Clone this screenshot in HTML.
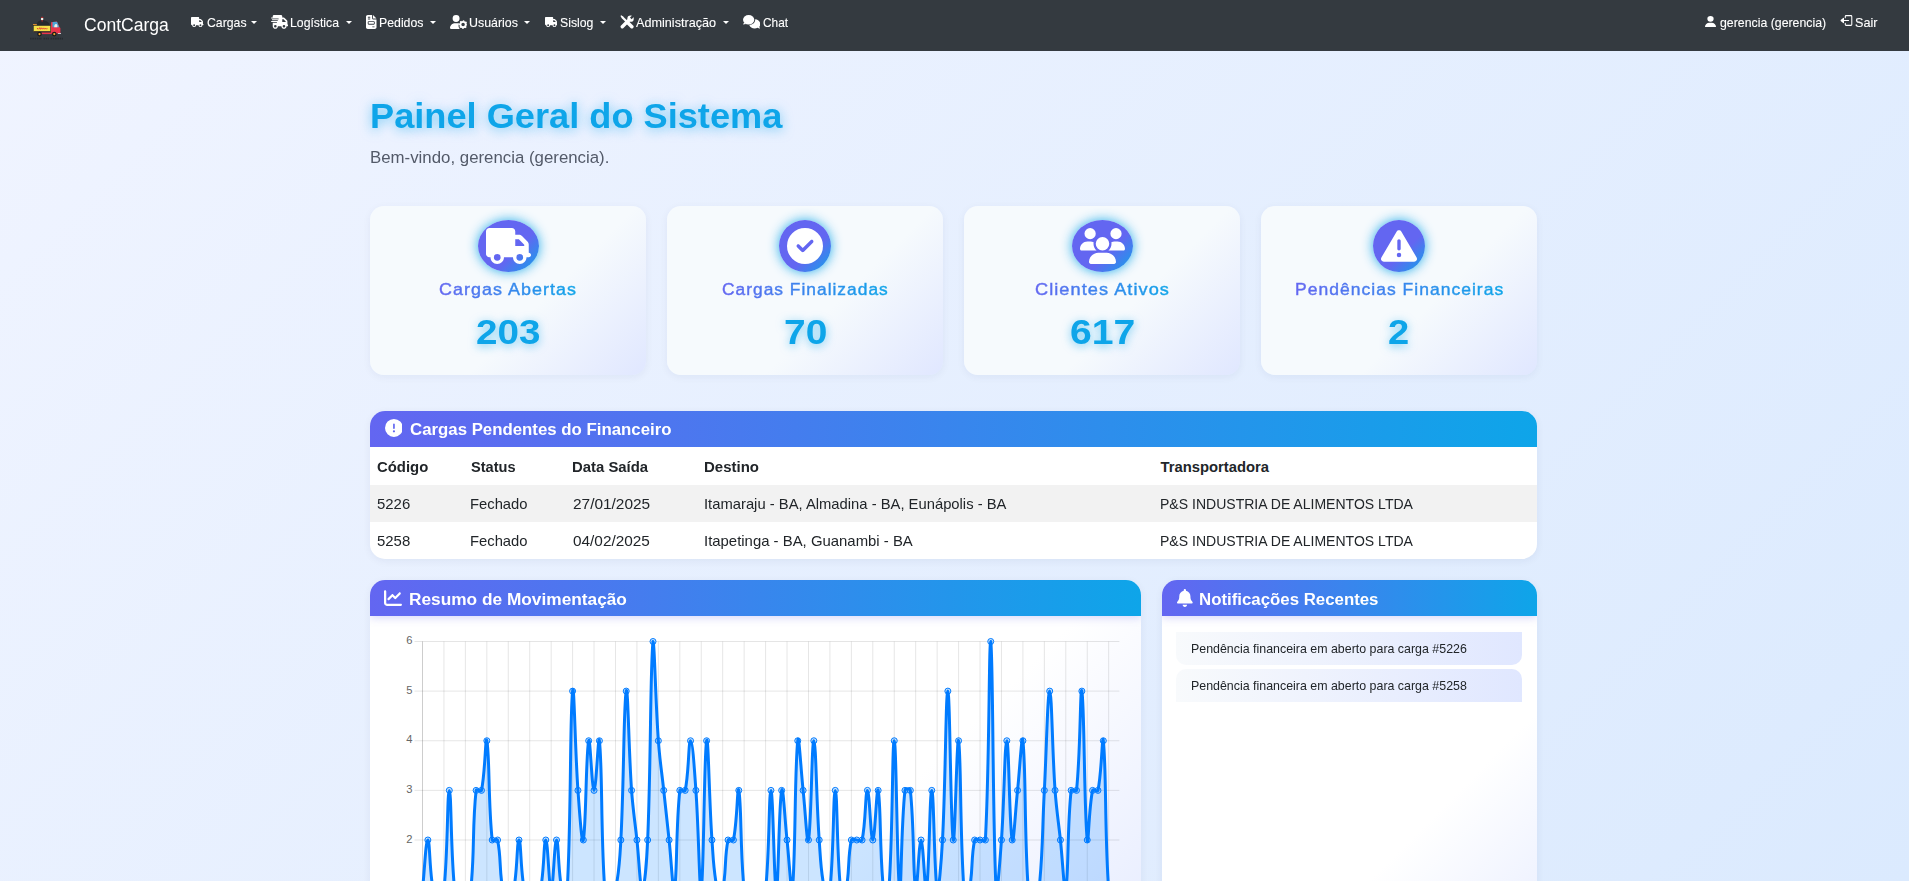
<!DOCTYPE html>
<html lang="pt-br">
<head>
<meta charset="utf-8">
<title>ContCarga - Painel Geral do Sistema</title>
<style>
*{box-sizing:border-box}
html,body{margin:0;padding:0}
body{width:1909px;height:881px;overflow:hidden;position:relative;
  font-family:"Liberation Sans","DejaVu Sans",sans-serif;color:#212529;
  background:linear-gradient(135deg,#f0f4ff 0%,#dbeafe 100%);background-size:1909px 881px;background-repeat:no-repeat}
svg{display:block}
.t{position:absolute;line-height:20px;white-space:nowrap;color:#212529;z-index:5;transform-origin:0 50%}
.t.g{-webkit-text-stroke:.45px transparent;background:linear-gradient(90deg,#6366f1 0%,#0ea5e9 100%);-webkit-background-clip:text;background-clip:text;color:transparent;-webkit-text-fill-color:transparent}
/* NAVBAR */
#nav{position:absolute;left:0;top:0;width:1909px;height:51px;background:#343a40}
#nav svg{position:absolute}
.car{position:absolute;top:20.5px;width:0;height:0;border-left:3.6px solid transparent;border-right:3.6px solid transparent;border-top:3.7px solid #fff}
/* STAT CARDS */
.stat{position:absolute;top:206px;width:276px;height:169px;border-radius:14px;
  background:linear-gradient(135deg,#f6fafd 60%,#e0e7ff 100%);
  box-shadow:0 2px 8px rgba(20,40,90,.055)}
.stat .ic{position:absolute;top:14px;height:52px;border-radius:50%;
  background:linear-gradient(135deg,#6366f1 60%,#0ea5e9 100%);box-shadow:0 0 12px rgba(14,165,233,.9)}
.stat .ic svg{position:absolute;left:8px;top:8px;height:36px}
/* PANELS */
.panel{position:absolute;border-radius:15px;background:#fff;box-shadow:0 2px 8px rgba(20,40,90,.06);overflow:hidden}
.ph{position:absolute;left:0;top:0;width:100%;height:36.3px;background:linear-gradient(90deg,#6366f1 0%,#0ea5e9 100%);box-shadow:0 2px 8px rgba(99,102,241,.25)}
.ph svg{position:absolute}
.rowbg{position:absolute;left:0;width:100%;height:37px;background:#f2f2f2}
.note{position:absolute;left:14px;width:346px;height:33.2px;background:linear-gradient(90deg,#f8fafc 0%,#e0e7ff 100%)}
</style>
</head>
<body>
<div id="nav">
  <!--LOGO--><svg style="left:29px;top:14px" width="36" height="27" viewBox="29 14 36 27">
<path d="M36.500 25.200C37 21.500 39.500 20 41.800 20.200L42.200 18.400L44 20.600C47 20.800 49.300 22.600 49.800 25.200z" fill="#26292e"/>
<circle cx="42.100" cy="19.100" r="1.250" fill="#f4f1ec"/><path d="M40.800 17.800C41 16.300 43.200 16.300 43.600 17.800z" fill="#c62828"/><rect x="41.700" y="20" width=".8" height="1.700" fill="#c62828"/>
<path d="M33 24.100h3.800v1.300H33z" fill="#e8962e"/>
<rect x="33.400" y="25.600" width="17.200" height="5.900" fill="#f4e04a" stroke="#2a2620" stroke-width=".5"/>
<circle cx="37.600" cy="28.600" r=".7" fill="#e03030"/><path d="M38.800 29.400L39.800 27.600L40.600 29.300L41.600 27.800L42.600 29.200L43.600 27.900L44.600 29.200L45.600 28L46.600 29.200L47.400 28.400" fill="none" stroke="#e03030" stroke-width=".8" stroke-linejoin="round"/>
<path d="M51 22.300L56.800 21.600L59.600 27.300L60.400 28V33.500H51z" fill="#e8354b"/>
<path d="M52.500 22.100L57 21.700L59.200 27.200H52.500z" fill="#4aa6d6"/>
<path d="M54.200 27.200C54.200 24.600 55.300 23.600 56.400 24C57.300 24.400 57.600 26 57.300 27.200z" fill="#f1eee8"/>
<rect x="34" y="31.500" width="17" height="1" fill="#3a2a2a"/><rect x="41.500" y="32.600" width="10" height="1.500" fill="#e8354b"/>
<rect x="58" y="33" width="3" height=".9" fill="#d9d9de"/>
<circle cx="39.500" cy="34.100" r="2.300" fill="#1c1a18"/><circle cx="39.500" cy="34.100" r="1.100" fill="#f2a630"/>
<circle cx="54.300" cy="34.100" r="2.300" fill="#1c1a18"/><circle cx="54.300" cy="34.100" r="1.100" fill="#f2a630"/>
<path d="M30 38.700H42M43.500 38.700H49M50.500 38.700H63" stroke="#272b30" stroke-width="1.700" stroke-dasharray="1.600 .7" fill="none"/>
</svg><!--/LOGO-->
  <!--NAVICONS--><svg style="left:191px;top:16.8px" width="12.6" height="10.1" viewBox="0 0 640 512"><path fill="#fff" d="M48 0C21.500 0 0 21.500 0 48V368c0 26.500 21.500 48 48 48H64c0 53 43 96 96 96s96-43 96-96H384c0 53 43 96 96 96s96-43 96-96h32c17.700 0 32-14.300 32-32s-14.300-32-32-32V288 256 237.300c0-17-6.700-33.300-18.700-45.300L512 114.700c-12-12-28.300-18.700-45.300-18.700H416V48c0-26.500-21.500-48-48-48H48zM416 160h50.700L544 237.300V256H416V160zM112 416a48 48 0 1 1 96 0 48 48 0 1 1 -96 0zm368-48a48 48 0 1 1 0 96 48 48 0 1 1 0-96z"/></svg>
<svg style="left:271.0px;top:15.0px" width="17.3" height="13.9" viewBox="0 0 640 512"><path fill="#fff" d="M112 0C85.500 0 64 21.500 64 48V96H16c-8.800 0-16 7.200-16 16s7.200 16 16 16H64 272c8.800 0 16 7.200 16 16s-7.200 16-16 16H64 48c-8.800 0-16 7.200-16 16s7.200 16 16 16H64 240c8.800 0 16 7.200 16 16s-7.200 16-16 16H64 16c-8.800 0-16 7.200-16 16s7.200 16 16 16H64 208c8.800 0 16 7.200 16 16s-7.200 16-16 16H64V416c0 53 43 96 96 96s96-43 96-96H384c0 53 43 96 96 96s96-43 96-96h32c17.700 0 32-14.300 32-32s-14.300-32-32-32V288 256 237.300c0-17-6.700-33.300-18.700-45.300L512 114.700c-12-12-28.300-18.700-45.300-18.700H416V48c0-26.500-21.500-48-48-48H112zM544 237.300V256H416V160h50.700L544 237.300zM160 368a48 48 0 1 1 0 96 48 48 0 1 1 0-96zm272 48a48 48 0 1 1 96 0 48 48 0 1 1 -96 0z"/></svg>
<svg style="left:366.1px;top:15.1px" width="10.5" height="14" viewBox="0 0 384 512"><path fill="#fff" d="M64 0C28.700 0 0 28.700 0 64V448c0 35.300 28.700 64 64 64H320c35.300 0 64-28.700 64-64V160H256c-17.700 0-32-14.300-32-32V0H64zM256 0V128H384L256 0zM80 64h64c8.800 0 16 7.200 16 16s-7.200 16-16 16H80c-8.800 0-16-7.200-16-16s7.200-16 16-16zm0 64h64c8.800 0 16 7.200 16 16s-7.200 16-16 16H80c-8.800 0-16-7.200-16-16s7.200-16 16-16zm16 96H288c17.700 0 32 14.300 32 32v64c0 17.700-14.300 32-32 32H96c-17.700 0-32-14.300-32-32V256c0-17.700 14.300-32 32-32zm0 32v64H288V256H96zM240 416h64c8.800 0 16 7.200 16 16s-7.200 16-16 16H240c-8.800 0-16-7.200-16-16s7.200-16 16-16z"/></svg>
<svg style="left:449.8px;top:15px" width="17.4" height="13.9" viewBox="0 0 640 512"><path fill="#fff" d="M224 256A128 128 0 1 0 224 0a128 128 0 1 0 0 256zM178 304C80 304 0 384 0 482c0 17 13 30 30 30h330c-40-40-55-100-40-150c5-18 12-34 22-48c-22-7-46-10-72-10z"/><circle cx="482" cy="352" r="100" fill="none" stroke="#fff" stroke-width="70"/><circle cx="482" cy="352" r="135" fill="none" stroke="#fff" stroke-width="50" stroke-dasharray="53 53" stroke-dashoffset="26"/></svg>
<svg style="left:544.9px;top:16.8px" width="12.6" height="10.1" viewBox="0 0 640 512"><path fill="#fff" d="M48 0C21.500 0 0 21.500 0 48V368c0 26.500 21.500 48 48 48H64c0 53 43 96 96 96s96-43 96-96H384c0 53 43 96 96 96s96-43 96-96h32c17.700 0 32-14.300 32-32s-14.300-32-32-32V288 256 237.300c0-17-6.700-33.300-18.700-45.300L512 114.700c-12-12-28.300-18.700-45.300-18.700H416V48c0-26.500-21.500-48-48-48H48zM416 160h50.700L544 237.300V256H416V160zM112 416a48 48 0 1 1 96 0 48 48 0 1 1 -96 0zm368-48a48 48 0 1 1 0 96 48 48 0 1 1 0-96z"/></svg>
<svg style="left:619.8px;top:15.1px" width="14.1" height="13.9" viewBox="0 0 512 512"><g stroke="#fff" fill="none"><path d="M80 432L300 212" stroke-width="125" stroke-linecap="round"/><path d="M312 312L432 432" stroke-width="130" stroke-linecap="round"/><path d="M70 70L260 260" stroke-width="80"/></g><path fill="#fff" d="M10 40L45 5L120 60L70 115z"/><circle cx="385" cy="135" r="118" fill="#fff"/><path d="M395 125L500 20" stroke="#343a40" stroke-width="85"/></svg>
<svg style="left:742.7px;top:15.1px" width="17.4" height="13.9" viewBox="0 0 640 512"><ellipse cx="208" cy="176" rx="208" ry="176" fill="#fff"/><path fill="#fff" d="M40 280L0 352L120 330z"/><path fill="#fff" d="M448 160c108 7 192 83 192 176c0 39-15 74-40 103c6 17 18 33 40 55c-40 5-75-5-103-20c-31 15-67 24-105 24c-96 0-176-55-200-129C349 359 448 288 448 176z"/></svg>
<svg style="left:1704.9px;top:15.5px" width="11" height="11.4" viewBox="0 0 448 512" preserveAspectRatio="none"><path fill="#fff" d="M224 256A128 128 0 1 0 224 0a128 128 0 1 0 0 256zm-45.700 48C79.800 304 0 383.800 0 482.300C0 498.700 13.300 512 29.700 512H418.300c16.400 0 29.700-13.300 29.700-29.700C448 383.800 368.200 304 269.700 304H178.300z"/></svg>
<svg style="left:1839.9px;top:14.3px" width="13" height="13" viewBox="0 0 16 16"><g fill="none" stroke="#fff" stroke-width="1.3" stroke-linecap="round" stroke-linejoin="round"><path d="M6.500 4.500V3a1 1 0 0 1 1-1h6a1 1 0 0 1 1 1v10a1 1 0 0 1-1 1h-6a1 1 0 0 1-1-1v-1.500"/><path d="M10.500 8H2.500"/><path d="M4.300 5.400L1.300 8l3 2.600z" fill="#fff"/></g></svg><!--/NAVICONS-->
  <i class="car" style="left:251.2px"></i><i class="car" style="left:346.2px"></i><i class="car" style="left:429.5px"></i><i class="car" style="left:524.1px"></i><i class="car" style="left:600.3px"></i><i class="car" style="left:723.2px"></i>
</div>
<div class="t" style="left:84.20px;top:14.70px;font-size:17.6px;transform:scaleX(0.9976);color:#fff">ContCarga</div><div class="t" style="left:206.54px;top:12.77px;font-size:12.2px;transform:scaleX(1.0079);color:#fff;-webkit-text-stroke:.1px #fff">Cargas</div><div class="t" style="left:290.49px;top:12.77px;font-size:12.2px;transform:scaleX(1.0052);color:#fff;-webkit-text-stroke:.1px #fff">Logística</div><div class="t" style="left:378.69px;top:12.77px;font-size:12.2px;transform:scaleX(1.0094);color:#fff;-webkit-text-stroke:.1px #fff">Pedidos</div><div class="t" style="left:468.98px;top:12.77px;font-size:12.2px;transform:scaleX(1.0182);color:#fff;-webkit-text-stroke:.1px #fff">Usuários</div><div class="t" style="left:559.90px;top:12.77px;font-size:12.2px;transform:scaleX(1.0063);color:#fff;-webkit-text-stroke:.1px #fff">Sislog</div><div class="t" style="left:635.80px;top:12.77px;font-size:12.2px;transform:scaleX(1.0371);color:#fff;-webkit-text-stroke:.1px #fff">Administração</div><div class="t" style="left:762.77px;top:12.77px;font-size:12.2px;transform:scaleX(0.9720);color:#fff;-webkit-text-stroke:.1px #fff">Chat</div><div class="t" style="left:1720.39px;top:12.77px;font-size:12.2px;transform:scaleX(1.0111);color:#fff;-webkit-text-stroke:.1px #fff">gerencia (gerencia)</div><div class="t" style="left:1855.48px;top:12.77px;font-size:12.2px;transform:scaleX(1.0381);color:#fff;-webkit-text-stroke:.1px #fff">Sair</div>

<div class="t" style="left:370.34px;top:105.51px;font-size:34.6px;transform:scaleX(1.0467);color:#0ea5e9;text-shadow:0 2px 11px rgba(14,165,233,.55);font-weight:700">Painel Geral do Sistema</div>
<div class="t" style="left:370.13px;top:146.74px;font-size:17.2px;transform:scaleX(0.9789);color:#535a69">Bem-vindo, gerencia (gerencia).</div>

<div class="stat" style="left:370px">
  <div class="ic" style="left:107.5px;width:61px"><svg viewBox="0 0 640 512" width="45" height="36"><path fill="#fff" d="M48 0C21.500 0 0 21.500 0 48V368c0 26.500 21.500 48 48 48H64c0 53 43 96 96 96s96-43 96-96H384c0 53 43 96 96 96s96-43 96-96h32c17.700 0 32-14.300 32-32s-14.300-32-32-32V288 256 237.300c0-17-6.700-33.300-18.700-45.300L512 114.700c-12-12-28.300-18.700-45.300-18.700H416V48c0-26.500-21.500-48-48-48H48zM416 160h50.700L544 237.300V256H416V160zM112 416a48 48 0 1 1 96 0 48 48 0 1 1 -96 0zm368-48a48 48 0 1 1 0 96 48 48 0 1 1 0-96z"/></svg></div>
</div>
<div class="stat" style="left:667px">
  <div class="ic" style="left:112px;width:52px"><svg viewBox="0 0 512 512" width="36" height="36"><path fill="#fff" d="M256 512A256 256 0 1 0 256 0a256 256 0 1 0 0 512zM369 209L241 337c-9.400 9.400-24.600 9.400-33.900 0l-64-64c-9.400-9.400-9.400-24.600 0-33.900s24.600-9.400 33.900 0l47 47L335 175c9.400-9.400 24.600-9.400 33.900 0s9.400 24.600 0 33.900z"/></svg></div>
</div>
<div class="stat" style="left:964px">
  <div class="ic" style="left:107.5px;width:61px"><svg viewBox="0 0 640 512" width="45" height="36"><path fill="#fff" d="M144 0a80 80 0 1 1 0 160A80 80 0 1 1 144 0zM512 0a80 80 0 1 1 0 160A80 80 0 1 1 512 0zM0 298.700C0 239.800 47.800 192 106.700 192h42.700c15.900 0 31 3.500 44.600 9.700c-1.300 7.200-1.900 14.700-1.900 22.300c0 38.200 16.800 72.500 43.300 96c-.2 0-.4 0-.7 0H21.300C9.600 320 0 310.400 0 298.700zM405.300 320c-.2 0-.4 0-.7 0c26.600-23.500 43.300-57.800 43.300-96c0-7.600-.7-15-1.900-22.300c13.600-6.300 28.700-9.700 44.600-9.700h42.700C592.200 192 640 239.800 640 298.700c0 11.800-9.600 21.300-21.300 21.300H405.300zM224 224a96 96 0 1 1 192 0 96 96 0 1 1 -192 0zM128 485.300C128 411.700 187.700 352 261.300 352H378.700C452.300 352 512 411.700 512 485.300c0 14.700-11.900 26.700-26.700 26.700H154.700c-14.700 0-26.700-11.900-26.700-26.700z"/></svg></div>
</div>
<div class="stat" style="left:1261px">
  <div class="ic" style="left:112px;width:52px"><svg viewBox="0 0 512 512" width="36" height="36"><path fill="#fff" d="M256 32c14.200 0 27.300 7.500 34.500 19.800l216 368c7.300 12.400 7.300 27.700 .2 40.100S486.300 480 472 480H40c-14.300 0-27.600-7.700-34.700-20.100s-7-27.800 .2-40.100l216-368C228.700 39.500 241.800 32 256 32zm0 128c-13.300 0-24 10.700-24 24V296c0 13.300 10.700 24 24 24s24-10.700 24-24V184c0-13.300-10.700-24-24-24zm32 224a32 32 0 1 0 -64 0 32 32 0 1 0 64 0z"/></svg></div>
</div>
<div class="t g" style="left:439.16px;top:279.34px;font-size:17.2px;transform:scaleX(1.0420);;letter-spacing:1px">Cargas Abertas</div><div class="t g" style="left:721.59px;top:279.34px;font-size:17.2px;transform:scaleX(1.0098);;letter-spacing:1px">Cargas Finalizadas</div><div class="t g" style="left:1034.74px;top:279.34px;font-size:17.2px;transform:scaleX(1.0568);;letter-spacing:1px">Clientes Ativos</div><div class="t g" style="left:1294.67px;top:279.34px;font-size:17.2px;transform:scaleX(1.0185);;letter-spacing:1px">Pendências Financeiras</div>
<div class="t" style="left:475.64px;top:322.06px;font-size:35.6px;transform:scaleX(1.0855);color:#0ea5e9;text-shadow:0 2px 9px rgba(14,165,233,.55);font-weight:700">203</div><div class="t" style="left:783.56px;top:322.06px;font-size:35.6px;transform:scaleX(1.0939);color:#0ea5e9;text-shadow:0 2px 9px rgba(14,165,233,.55);font-weight:700">70</div><div class="t" style="left:1070.02px;top:322.06px;font-size:35.6px;transform:scaleX(1.1009);color:#0ea5e9;text-shadow:0 2px 9px rgba(14,165,233,.55);font-weight:700">617</div><div class="t" style="left:1388.26px;top:322.06px;font-size:35.6px;transform:scaleX(1.0706);color:#0ea5e9;text-shadow:0 2px 9px rgba(14,165,233,.55);font-weight:700">2</div>

<div class="panel" id="pend" style="left:370px;top:411px;width:1167px;height:147.700px">
  <div class="ph"><svg style="left:14.6px;top:8.1px" viewBox="0 0 512 512" width="17.900" height="17.900"><path fill="#fff" d="M256 512A256 256 0 1 0 256 0a256 256 0 1 0 0 512zm0-384c13.300 0 24 10.700 24 24V264c0 13.300-10.700 24-24 24s-24-10.700-24-24V152c0-13.300 10.700-24 24-24zM224 352a32 32 0 1 1 64 0 32 32 0 1 1 -64 0z"/></svg></div>
  <div style="position:absolute;left:0;top:36.3px;width:100%;height:38px;background:#fff"></div><div class="rowbg" style="top:73.9px;height:36.9px"></div>
</div>
<div class="t" style="left:409.57px;top:418.64px;font-size:17.2px;transform:scaleX(0.9778);color:#fff;font-weight:700">Cargas Pendentes do Financeiro</div>
<div class="t" style="left:377.40px;top:456.57px;font-size:14.8px;transform:scaleX(1.0060);;font-weight:700">Código</div><div class="t" style="left:471.11px;top:456.57px;font-size:14.8px;transform:scaleX(0.9864);;font-weight:700">Status</div><div class="t" style="left:572.49px;top:456.57px;font-size:14.8px;transform:scaleX(1.0060);;font-weight:700">Data Saída</div><div class="t" style="left:703.99px;top:456.57px;font-size:14.8px;transform:scaleX(1.0123);;font-weight:700">Destino</div><div class="t" style="left:1160.45px;top:456.57px;font-size:14.8px;transform:scaleX(1.0000);;font-weight:700">Transportadora</div>
<div class="t" style="left:377.14px;top:493.67px;font-size:14.8px;transform:scaleX(1.0095);">5226</div><div class="t" style="left:470.35px;top:493.67px;font-size:14.8px;transform:scaleX(0.9991);">Fechado</div><div class="t" style="left:572.72px;top:493.67px;font-size:14.8px;transform:scaleX(1.0419);">27/01/2025</div><div class="t" style="left:703.75px;top:493.67px;font-size:14.8px;transform:scaleX(0.9992);">Itamaraju - BA, Almadina - BA, Eunápolis - BA</div><div class="t" style="left:1159.51px;top:493.67px;font-size:14.8px;transform:scaleX(0.9485);">P&amp;S INDUSTRIA DE ALIMENTOS LTDA</div>
<div class="t" style="left:377.14px;top:530.57px;font-size:14.8px;transform:scaleX(1.0095);">5258</div><div class="t" style="left:470.35px;top:530.57px;font-size:14.8px;transform:scaleX(0.9991);">Fechado</div><div class="t" style="left:572.98px;top:530.57px;font-size:14.8px;transform:scaleX(1.0384);">04/02/2025</div><div class="t" style="left:703.74px;top:530.57px;font-size:14.8px;transform:scaleX(1.0073);">Itapetinga - BA, Guanambi - BA</div><div class="t" style="left:1159.51px;top:530.57px;font-size:14.8px;transform:scaleX(0.9485);">P&amp;S INDUSTRIA DE ALIMENTOS LTDA</div>

<div class="panel" id="chart" style="left:370px;top:580px;width:771px;height:470px;background:linear-gradient(135deg,#fff 60%,#e0e7ff 100%)">
  <div class="ph"><svg style="left:14.4px;top:9px" viewBox="0 0 512 512" width="18" height="18"><path fill="#fff" d="M64 64c0-17.700-14.300-32-32-32S0 46.300 0 64V400c0 44.200 35.800 80 80 80H480c17.700 0 32-14.300 32-32s-14.300-32-32-32H80c-8.800 0-16-7.200-16-16V64zm406.600 86.600c12.500-12.500 12.500-32.800 0-45.300s-32.800-12.500-45.300 0L320 210.700l-57.400-57.400c-12.500-12.500-32.800-12.500-45.300 0l-112 112c-12.500 12.500-12.500 32.800 0 45.300s32.800 12.500 45.300 0L240 221.300l57.400 57.400c12.500 12.500 32.800 12.500 45.300 0l128-128z"/></svg></div>
  <!--CHART--><svg style="position:absolute;left:0;top:0" width="771" height="470" viewBox="370 580 771 470" font-family="Liberation Sans, Arial, sans-serif">
<path d="M422.5 641.5V990M443.94 641.5V990M465.39 641.5V990M486.83 641.5V990M508.27 641.5V990M529.72 641.5V990M551.16 641.5V990M572.6 641.5V990M594.04 641.5V990M615.49 641.5V990M636.93 641.5V990M658.37 641.5V990M679.82 641.5V990M701.26 641.5V990M722.7 641.5V990M744.15 641.5V990M765.59 641.5V990M787.03 641.5V990M808.48 641.5V990M829.92 641.5V990M851.36 641.5V990M872.8 641.5V990M894.25 641.5V990M915.69 641.5V990M937.13 641.5V990M958.58 641.5V990M980.02 641.5V990M1001.46 641.5V990M1022.91 641.5V990M1044.35 641.5V990M1065.79 641.5V990M1087.24 641.5V990M1108.68 641.5V990M414.5 840H1119.4M414.5 790.38H1119.4M414.5 740.75H1119.4M414.5 691.12H1119.4M414.5 641.5H1119.4" stroke="#000" stroke-opacity=".1" stroke-width="1" fill="none"/>
<path d="M422.5 641.5V990" stroke="#000" stroke-opacity=".1" stroke-width="1" fill="none"/>
<text x="412.5" y="842.6" font-size="11.2" fill="#666" text-anchor="end">2</text>
<text x="412.5" y="792.98" font-size="11.2" fill="#666" text-anchor="end">3</text>
<text x="412.5" y="743.35" font-size="11.2" fill="#666" text-anchor="end">4</text>
<text x="412.5" y="693.73" font-size="11.2" fill="#666" text-anchor="end">5</text>
<text x="412.5" y="644.1" font-size="11.2" fill="#666" text-anchor="end">6</text>
<path d="M422.5 889.62C424.64 869.77 425.72 840 427.86 840C430.01 840 429.35 871.7 433.22 889.62C433.64 891.55 436.44 889.62 438.58 889.62C440.73 889.62 443.72 891.66 443.94 889.62C448.01 851.96 447.16 790.38 449.3 790.38C451.45 790.38 450.6 851.96 454.66 889.62C454.88 891.66 457.88 889.62 460.03 889.62C462.17 889.62 463.24 889.62 465.39 889.62C467.53 889.62 470.53 891.66 470.75 889.62C474.82 851.96 472.04 828.04 476.11 790.38C476.33 788.34 481.05 792.3 481.47 790.38C485.34 772.45 485.4 734.11 486.83 740.75C489.68 753.96 488.12 802.33 492.19 840C492.41 842.03 497.13 838.07 497.55 840C501.42 857.92 499.04 871.7 502.91 889.62C503.33 891.55 506.13 889.62 508.27 889.62C510.42 889.62 513.22 891.55 513.63 889.62C517.51 871.7 516.85 840 518.99 840C521.14 840 520.48 871.7 524.35 889.62C524.77 891.55 527.57 889.62 529.72 889.62C531.86 889.62 532.93 889.62 535.08 889.62C537.22 889.62 540.02 891.55 540.44 889.62C544.31 871.7 543.65 840 545.8 840C547.94 840 549.01 889.62 551.16 889.62C553.3 889.62 554.37 840 556.52 840C558.66 840 558.01 871.7 561.88 889.62C562.3 891.55 567.13 891.71 567.24 889.62C571.42 812.31 569.74 717.58 572.6 691.12C574.03 677.88 575.11 750.73 577.96 790.38C579.4 810.28 581.89 846.64 583.32 840C586.18 826.79 585.83 753.96 588.68 740.75C590.12 734.11 591.9 790.38 594.04 790.38C596.19 790.38 598.33 730.79 599.41 740.75C602.62 770.49 600.63 832.14 604.77 889.62C604.92 891.69 607.98 889.62 610.13 889.62C612.27 889.62 615.07 891.55 615.49 889.62C619.36 871.7 619.77 859.93 620.85 840C624.06 780.53 623.64 703.03 626.21 691.12C627.93 683.18 628.72 750.73 631.57 790.38C633 810.28 634.79 820.15 636.93 840C639.08 859.85 640.15 889.62 642.29 889.62C644.44 889.62 646.79 859.94 647.65 840C651.08 760.69 650.16 667.96 653.01 641.5C654.44 641.5 655.52 701.11 658.37 740.75C659.81 760.66 661.59 770.52 663.73 790.38C665.88 810.23 666.95 820.15 669.1 840C671.24 859.85 673.02 896.26 674.46 889.62C677.31 876.41 675.75 828.04 679.82 790.38C680.04 788.34 684.76 792.3 685.18 790.38C689.05 772.45 688.39 740.75 690.54 740.75C692.68 740.75 694.47 770.47 695.9 790.38C698.75 830.02 699.54 897.57 701.26 889.62C703.83 877.72 704.05 752.66 706.62 740.75C708.34 732.81 709.13 800.36 711.98 840C713.42 859.91 713.47 871.7 717.34 889.62C717.76 891.55 722.29 891.55 722.7 889.62C726.58 871.7 724.19 857.92 728.06 840C728.48 838.07 733.01 841.93 733.42 840C737.3 822.08 737.35 783.74 738.79 790.38C741.64 803.59 740.08 851.96 744.15 889.62C744.37 891.66 747.36 889.62 749.51 889.62C751.65 889.62 752.72 889.62 754.87 889.62C757.01 889.62 758.08 889.62 760.23 889.62C762.37 889.62 765.37 891.66 765.59 889.62C769.66 851.96 768.81 790.38 770.95 790.38C773.09 790.38 774.17 889.62 776.31 889.62C778.46 889.62 778.82 803.59 781.67 790.38C783.11 783.74 784.89 820.15 787.03 840C789.18 859.85 791.32 899.59 792.39 889.62C795.61 859.89 794.54 770.49 797.75 740.75C798.83 730.79 800.97 770.52 803.11 790.38C805.26 810.23 807.04 846.64 808.48 840C811.33 826.79 811.69 740.75 813.84 740.75C815.98 740.75 816.34 800.36 819.2 840C820.63 859.91 820.69 871.7 824.56 889.62C824.97 891.55 829.7 891.66 829.92 889.62C833.99 851.96 833.13 790.38 835.28 790.38C837.42 790.38 836.57 851.96 840.64 889.62C840.86 891.66 845.58 891.55 846 889.62C849.87 871.7 847.49 857.92 851.36 840C851.78 838.07 854.58 840 856.72 840C858.87 840 861.67 841.93 862.08 840C865.96 822.08 865.3 790.38 867.44 790.38C869.59 790.38 870.66 840 872.8 840C874.95 840 876.73 783.74 878.17 790.38C881.02 803.59 879.46 851.96 883.53 889.62C883.75 891.66 888.74 891.69 888.89 889.62C893.03 832.14 892.1 740.75 894.25 740.75C896.39 740.75 897.04 877.72 899.61 889.62C901.32 897.57 900.9 828.04 904.97 790.38C905.19 788.34 910.11 788.34 910.33 790.38C914.4 828.04 912.84 876.41 915.69 889.62C917.12 896.26 918.91 840 921.05 840C923.2 840 924.98 896.26 926.41 889.62C929.27 876.41 929.63 790.38 931.77 790.38C933.92 790.38 934.28 876.41 937.13 889.62C938.57 896.26 941.42 859.93 942.49 840C945.71 780.53 945.71 691.12 947.86 691.12C950 691.12 950.64 828.09 953.22 840C954.93 847.94 956.86 732.81 958.58 740.75C961.15 752.66 959.8 832.14 963.94 889.62C964.09 891.69 968.88 891.55 969.3 889.62C973.17 871.7 970.79 857.92 974.66 840C975.08 838.07 977.88 840 980.02 840C982.16 840 985.27 842.09 985.38 840C989.56 762.69 988.84 641.5 990.74 641.5C993.12 652.53 992.53 823.52 996.1 889.62C996.82 902.92 1000.03 859.91 1001.46 840C1004.32 800.36 1004.68 740.75 1006.82 740.75C1008.97 740.75 1009.33 826.79 1012.18 840C1013.62 846.64 1015.4 810.23 1017.55 790.38C1019.69 770.52 1021.83 730.79 1022.91 740.75C1026.12 770.49 1024.13 832.14 1028.27 889.62C1028.42 891.69 1031.48 889.62 1033.63 889.62C1035.77 889.62 1038.77 891.66 1038.99 889.62C1043.06 851.96 1042.2 830.08 1044.35 790.38C1046.49 750.67 1047.57 691.12 1049.71 691.12C1051.85 691.12 1052.22 750.73 1055.07 790.38C1056.5 810.28 1058.29 820.15 1060.43 840C1062.58 859.85 1064.36 896.26 1065.79 889.62C1068.65 876.41 1067.08 828.04 1071.15 790.38C1071.37 788.34 1076.29 792.41 1076.51 790.38C1080.58 752.71 1080.16 683.18 1081.87 691.12C1084.45 703.03 1084.02 810.26 1087.24 840C1088.31 849.96 1088.72 808.3 1092.6 790.38C1093.01 788.45 1097.54 792.3 1097.96 790.38C1101.83 772.45 1102.24 730.79 1103.32 740.75C1106.53 770.49 1104.54 832.14 1108.68 889.62C1108.83 891.69 1111.89 889.62 1114.04 889.62C1116.18 889.62 1117.26 889.62 1119.4 889.62L1119.4 939.25L422.5 939.25Z" fill="#007bff" fill-opacity=".2"/>
<path d="M422.5 889.62C424.64 869.77 425.72 840 427.86 840C430.01 840 429.35 871.7 433.22 889.62C433.64 891.55 436.44 889.62 438.58 889.62C440.73 889.62 443.72 891.66 443.94 889.62C448.01 851.96 447.16 790.38 449.3 790.38C451.45 790.38 450.6 851.96 454.66 889.62C454.88 891.66 457.88 889.62 460.03 889.62C462.17 889.62 463.24 889.62 465.39 889.62C467.53 889.62 470.53 891.66 470.75 889.62C474.82 851.96 472.04 828.04 476.11 790.38C476.33 788.34 481.05 792.3 481.47 790.38C485.34 772.45 485.4 734.11 486.83 740.75C489.68 753.96 488.12 802.33 492.19 840C492.41 842.03 497.13 838.07 497.55 840C501.42 857.92 499.04 871.7 502.91 889.62C503.33 891.55 506.13 889.62 508.27 889.62C510.42 889.62 513.22 891.55 513.63 889.62C517.51 871.7 516.85 840 518.99 840C521.14 840 520.48 871.7 524.35 889.62C524.77 891.55 527.57 889.62 529.72 889.62C531.86 889.62 532.93 889.62 535.08 889.62C537.22 889.62 540.02 891.55 540.44 889.62C544.31 871.7 543.65 840 545.8 840C547.94 840 549.01 889.62 551.16 889.62C553.3 889.62 554.37 840 556.52 840C558.66 840 558.01 871.7 561.88 889.62C562.3 891.55 567.13 891.71 567.24 889.62C571.42 812.31 569.74 717.58 572.6 691.12C574.03 677.88 575.11 750.73 577.96 790.38C579.4 810.28 581.89 846.64 583.32 840C586.18 826.79 585.83 753.96 588.68 740.75C590.12 734.11 591.9 790.38 594.04 790.38C596.19 790.38 598.33 730.79 599.41 740.75C602.62 770.49 600.63 832.14 604.77 889.62C604.92 891.69 607.98 889.62 610.13 889.62C612.27 889.62 615.07 891.55 615.49 889.62C619.36 871.7 619.77 859.93 620.85 840C624.06 780.53 623.64 703.03 626.21 691.12C627.93 683.18 628.72 750.73 631.57 790.38C633 810.28 634.79 820.15 636.93 840C639.08 859.85 640.15 889.62 642.29 889.62C644.44 889.62 646.79 859.94 647.65 840C651.08 760.69 650.16 667.96 653.01 641.5C654.44 641.5 655.52 701.11 658.37 740.75C659.81 760.66 661.59 770.52 663.73 790.38C665.88 810.23 666.95 820.15 669.1 840C671.24 859.85 673.02 896.26 674.46 889.62C677.31 876.41 675.75 828.04 679.82 790.38C680.04 788.34 684.76 792.3 685.18 790.38C689.05 772.45 688.39 740.75 690.54 740.75C692.68 740.75 694.47 770.47 695.9 790.38C698.75 830.02 699.54 897.57 701.26 889.62C703.83 877.72 704.05 752.66 706.62 740.75C708.34 732.81 709.13 800.36 711.98 840C713.42 859.91 713.47 871.7 717.34 889.62C717.76 891.55 722.29 891.55 722.7 889.62C726.58 871.7 724.19 857.92 728.06 840C728.48 838.07 733.01 841.93 733.42 840C737.3 822.08 737.35 783.74 738.79 790.38C741.64 803.59 740.08 851.96 744.15 889.62C744.37 891.66 747.36 889.62 749.51 889.62C751.65 889.62 752.72 889.62 754.87 889.62C757.01 889.62 758.08 889.62 760.23 889.62C762.37 889.62 765.37 891.66 765.59 889.62C769.66 851.96 768.81 790.38 770.95 790.38C773.09 790.38 774.17 889.62 776.31 889.62C778.46 889.62 778.82 803.59 781.67 790.38C783.11 783.74 784.89 820.15 787.03 840C789.18 859.85 791.32 899.59 792.39 889.62C795.61 859.89 794.54 770.49 797.75 740.75C798.83 730.79 800.97 770.52 803.11 790.38C805.26 810.23 807.04 846.64 808.48 840C811.33 826.79 811.69 740.75 813.84 740.75C815.98 740.75 816.34 800.36 819.2 840C820.63 859.91 820.69 871.7 824.56 889.62C824.97 891.55 829.7 891.66 829.92 889.62C833.99 851.96 833.13 790.38 835.28 790.38C837.42 790.38 836.57 851.96 840.64 889.62C840.86 891.66 845.58 891.55 846 889.62C849.87 871.7 847.49 857.92 851.36 840C851.78 838.07 854.58 840 856.72 840C858.87 840 861.67 841.93 862.08 840C865.96 822.08 865.3 790.38 867.44 790.38C869.59 790.38 870.66 840 872.8 840C874.95 840 876.73 783.74 878.17 790.38C881.02 803.59 879.46 851.96 883.53 889.62C883.75 891.66 888.74 891.69 888.89 889.62C893.03 832.14 892.1 740.75 894.25 740.75C896.39 740.75 897.04 877.72 899.61 889.62C901.32 897.57 900.9 828.04 904.97 790.38C905.19 788.34 910.11 788.34 910.33 790.38C914.4 828.04 912.84 876.41 915.69 889.62C917.12 896.26 918.91 840 921.05 840C923.2 840 924.98 896.26 926.41 889.62C929.27 876.41 929.63 790.38 931.77 790.38C933.92 790.38 934.28 876.41 937.13 889.62C938.57 896.26 941.42 859.93 942.49 840C945.71 780.53 945.71 691.12 947.86 691.12C950 691.12 950.64 828.09 953.22 840C954.93 847.94 956.86 732.81 958.58 740.75C961.15 752.66 959.8 832.14 963.94 889.62C964.09 891.69 968.88 891.55 969.3 889.62C973.17 871.7 970.79 857.92 974.66 840C975.08 838.07 977.88 840 980.02 840C982.16 840 985.27 842.09 985.38 840C989.56 762.69 988.84 641.5 990.74 641.5C993.12 652.53 992.53 823.52 996.1 889.62C996.82 902.92 1000.03 859.91 1001.46 840C1004.32 800.36 1004.68 740.75 1006.82 740.75C1008.97 740.75 1009.33 826.79 1012.18 840C1013.62 846.64 1015.4 810.23 1017.55 790.38C1019.69 770.52 1021.83 730.79 1022.91 740.75C1026.12 770.49 1024.13 832.14 1028.27 889.62C1028.42 891.69 1031.48 889.62 1033.63 889.62C1035.77 889.62 1038.77 891.66 1038.99 889.62C1043.06 851.96 1042.2 830.08 1044.35 790.38C1046.49 750.67 1047.57 691.12 1049.71 691.12C1051.85 691.12 1052.22 750.73 1055.07 790.38C1056.5 810.28 1058.29 820.15 1060.43 840C1062.58 859.85 1064.36 896.26 1065.79 889.62C1068.65 876.41 1067.08 828.04 1071.15 790.38C1071.37 788.34 1076.29 792.41 1076.51 790.38C1080.58 752.71 1080.16 683.18 1081.87 691.12C1084.45 703.03 1084.02 810.26 1087.24 840C1088.31 849.96 1088.72 808.3 1092.6 790.38C1093.01 788.45 1097.54 792.3 1097.96 790.38C1101.83 772.45 1102.24 730.79 1103.32 740.75C1106.53 770.49 1104.54 832.14 1108.68 889.62C1108.83 891.69 1111.89 889.62 1114.04 889.62C1116.18 889.62 1117.26 889.62 1119.4 889.62" fill="none" stroke="#007bff" stroke-width="3" stroke-linejoin="round" stroke-linecap="butt"/>
<g fill="#007bff" fill-opacity=".2" stroke="#007bff" stroke-width="1"><circle cx="422.5" cy="889.62" r="3"/><circle cx="427.86" cy="840" r="3"/><circle cx="433.22" cy="889.62" r="3"/><circle cx="438.58" cy="889.62" r="3"/><circle cx="443.94" cy="889.62" r="3"/><circle cx="449.3" cy="790.38" r="3"/><circle cx="454.66" cy="889.62" r="3"/><circle cx="460.03" cy="889.62" r="3"/><circle cx="465.39" cy="889.62" r="3"/><circle cx="470.75" cy="889.62" r="3"/><circle cx="476.11" cy="790.38" r="3"/><circle cx="481.47" cy="790.38" r="3"/><circle cx="486.83" cy="740.75" r="3"/><circle cx="492.19" cy="840" r="3"/><circle cx="497.55" cy="840" r="3"/><circle cx="502.91" cy="889.62" r="3"/><circle cx="508.27" cy="889.62" r="3"/><circle cx="513.63" cy="889.62" r="3"/><circle cx="518.99" cy="840" r="3"/><circle cx="524.35" cy="889.62" r="3"/><circle cx="529.72" cy="889.62" r="3"/><circle cx="535.08" cy="889.62" r="3"/><circle cx="540.44" cy="889.62" r="3"/><circle cx="545.8" cy="840" r="3"/><circle cx="551.16" cy="889.62" r="3"/><circle cx="556.52" cy="840" r="3"/><circle cx="561.88" cy="889.62" r="3"/><circle cx="567.24" cy="889.62" r="3"/><circle cx="572.6" cy="691.12" r="3"/><circle cx="577.96" cy="790.38" r="3"/><circle cx="583.32" cy="840" r="3"/><circle cx="588.68" cy="740.75" r="3"/><circle cx="594.04" cy="790.38" r="3"/><circle cx="599.41" cy="740.75" r="3"/><circle cx="604.77" cy="889.62" r="3"/><circle cx="610.13" cy="889.62" r="3"/><circle cx="615.49" cy="889.62" r="3"/><circle cx="620.85" cy="840" r="3"/><circle cx="626.21" cy="691.12" r="3"/><circle cx="631.57" cy="790.38" r="3"/><circle cx="636.93" cy="840" r="3"/><circle cx="642.29" cy="889.62" r="3"/><circle cx="647.65" cy="840" r="3"/><circle cx="653.01" cy="641.5" r="3"/><circle cx="658.37" cy="740.75" r="3"/><circle cx="663.73" cy="790.38" r="3"/><circle cx="669.1" cy="840" r="3"/><circle cx="674.46" cy="889.62" r="3"/><circle cx="679.82" cy="790.38" r="3"/><circle cx="685.18" cy="790.38" r="3"/><circle cx="690.54" cy="740.75" r="3"/><circle cx="695.9" cy="790.38" r="3"/><circle cx="701.26" cy="889.62" r="3"/><circle cx="706.62" cy="740.75" r="3"/><circle cx="711.98" cy="840" r="3"/><circle cx="717.34" cy="889.62" r="3"/><circle cx="722.7" cy="889.62" r="3"/><circle cx="728.06" cy="840" r="3"/><circle cx="733.42" cy="840" r="3"/><circle cx="738.79" cy="790.38" r="3"/><circle cx="744.15" cy="889.62" r="3"/><circle cx="749.51" cy="889.62" r="3"/><circle cx="754.87" cy="889.62" r="3"/><circle cx="760.23" cy="889.62" r="3"/><circle cx="765.59" cy="889.62" r="3"/><circle cx="770.95" cy="790.38" r="3"/><circle cx="776.31" cy="889.62" r="3"/><circle cx="781.67" cy="790.38" r="3"/><circle cx="787.03" cy="840" r="3"/><circle cx="792.39" cy="889.62" r="3"/><circle cx="797.75" cy="740.75" r="3"/><circle cx="803.11" cy="790.38" r="3"/><circle cx="808.48" cy="840" r="3"/><circle cx="813.84" cy="740.75" r="3"/><circle cx="819.2" cy="840" r="3"/><circle cx="824.56" cy="889.62" r="3"/><circle cx="829.92" cy="889.62" r="3"/><circle cx="835.28" cy="790.38" r="3"/><circle cx="840.64" cy="889.62" r="3"/><circle cx="846" cy="889.62" r="3"/><circle cx="851.36" cy="840" r="3"/><circle cx="856.72" cy="840" r="3"/><circle cx="862.08" cy="840" r="3"/><circle cx="867.44" cy="790.38" r="3"/><circle cx="872.8" cy="840" r="3"/><circle cx="878.17" cy="790.38" r="3"/><circle cx="883.53" cy="889.62" r="3"/><circle cx="888.89" cy="889.62" r="3"/><circle cx="894.25" cy="740.75" r="3"/><circle cx="899.61" cy="889.62" r="3"/><circle cx="904.97" cy="790.38" r="3"/><circle cx="910.33" cy="790.38" r="3"/><circle cx="915.69" cy="889.62" r="3"/><circle cx="921.05" cy="840" r="3"/><circle cx="926.41" cy="889.62" r="3"/><circle cx="931.77" cy="790.38" r="3"/><circle cx="937.13" cy="889.62" r="3"/><circle cx="942.49" cy="840" r="3"/><circle cx="947.86" cy="691.12" r="3"/><circle cx="953.22" cy="840" r="3"/><circle cx="958.58" cy="740.75" r="3"/><circle cx="963.94" cy="889.62" r="3"/><circle cx="969.3" cy="889.62" r="3"/><circle cx="974.66" cy="840" r="3"/><circle cx="980.02" cy="840" r="3"/><circle cx="985.38" cy="840" r="3"/><circle cx="990.74" cy="641.5" r="3"/><circle cx="996.1" cy="889.62" r="3"/><circle cx="1001.46" cy="840" r="3"/><circle cx="1006.82" cy="740.75" r="3"/><circle cx="1012.18" cy="840" r="3"/><circle cx="1017.55" cy="790.38" r="3"/><circle cx="1022.91" cy="740.75" r="3"/><circle cx="1028.27" cy="889.62" r="3"/><circle cx="1033.63" cy="889.62" r="3"/><circle cx="1038.99" cy="889.62" r="3"/><circle cx="1044.35" cy="790.38" r="3"/><circle cx="1049.71" cy="691.12" r="3"/><circle cx="1055.07" cy="790.38" r="3"/><circle cx="1060.43" cy="840" r="3"/><circle cx="1065.79" cy="889.62" r="3"/><circle cx="1071.15" cy="790.38" r="3"/><circle cx="1076.51" cy="790.38" r="3"/><circle cx="1081.87" cy="691.12" r="3"/><circle cx="1087.24" cy="840" r="3"/><circle cx="1092.6" cy="790.38" r="3"/><circle cx="1097.96" cy="790.38" r="3"/><circle cx="1103.32" cy="740.75" r="3"/><circle cx="1108.68" cy="889.62" r="3"/><circle cx="1114.04" cy="889.62" r="3"/><circle cx="1119.4" cy="889.62" r="3"/></g>
</svg><!--/CHART-->
</div>
<div class="t" style="left:409.24px;top:588.84px;font-size:17.2px;transform:scaleX(1.0051);color:#fff;font-weight:700">Resumo de Movimentação</div>

<div class="panel" id="notif" style="left:1162px;top:580px;width:375px;height:470px;background:linear-gradient(135deg,#fff 60%,#e0e7ff 100%)">
  <div class="ph"><svg style="left:14.9px;top:9.3px" viewBox="0 0 448 512" width="15.700" height="17.900"><path fill="#fff" d="M224 0c-17.700 0-32 14.300-32 32V51.200C119 66 64 130.600 64 208v18.800c0 47-17.300 92.400-48.500 127.600l-7.400 8.300c-8.400 9.400-10.400 22.900-5.300 34.400S19.400 416 32 416H416c12.600 0 24-7.400 29.200-18.900s3.100-25-5.300-34.400l-7.400-8.300C401.300 319.200 384 273.900 384 226.800V208c0-77.400-55-142-128-156.800V32c0-17.700-14.300-32-32-32zm45.300 493.300c12-12 18.700-28.300 18.700-45.300H224 160c0 17 6.700 33.300 18.700 45.300s28.300 18.700 45.300 18.700s33.300-6.700 45.300-18.700z"/></svg></div>
  <div class="note" style="top:52px;border-radius:0 0 10px 10px"></div>
  <div class="note" style="top:89.1px;border-radius:10px 10px 0 0"></div>
</div>
<div class="t" style="left:1199.48px;top:588.84px;font-size:17.2px;transform:scaleX(0.9785);color:#fff;font-weight:700">Notificações Recentes</div>
<div class="t" style="left:1190.92px;top:638.93px;font-size:12.6px;transform:scaleX(0.9849);">Pendência financeira em aberto para carga #5226</div><div class="t" style="left:1190.92px;top:676.03px;font-size:12.6px;transform:scaleX(0.9849);">Pendência financeira em aberto para carga #5258</div>
</body>
</html>
